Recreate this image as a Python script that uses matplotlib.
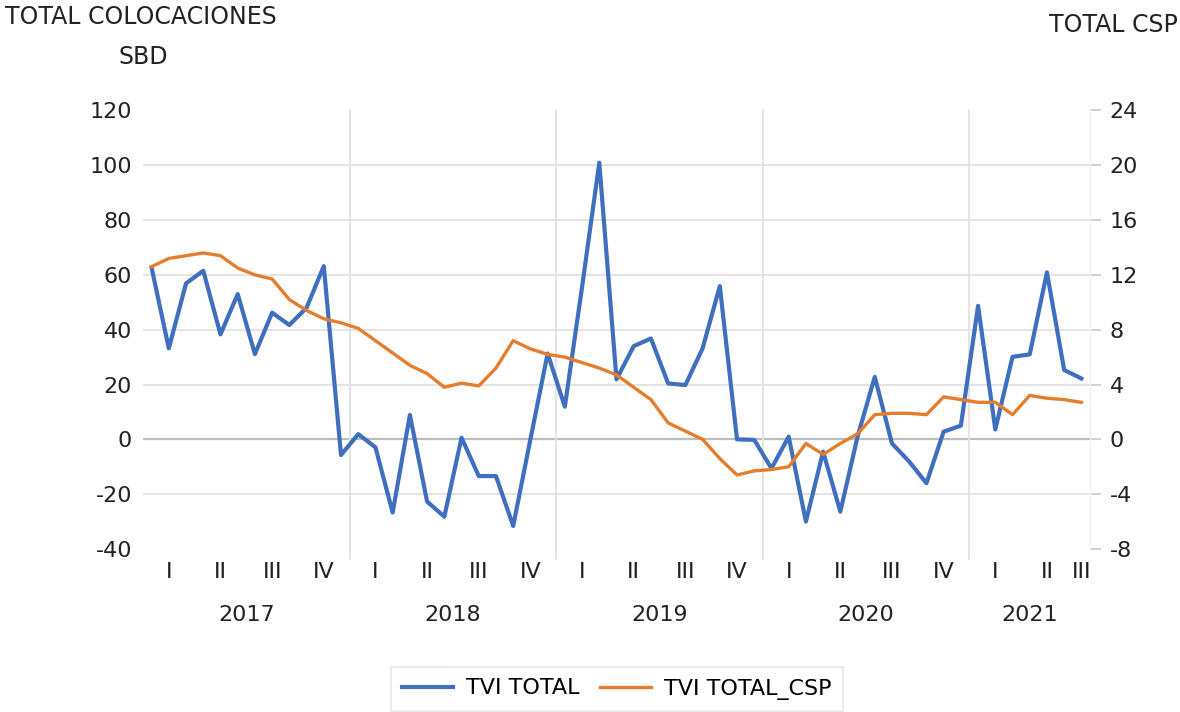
import numpy as np
import matplotlib
matplotlib.use("Agg")
import matplotlib.pyplot as plt

# monthly data, Jan 2017 - Jul 2021
years = ["2017", "2018", "2019", "2020", "2021"]
quarters = ["I", "II", "III", "IV"]

tvi_total = [
    62.6, 33.2, 56.9, 61.5, 38.3, 53.0, 31.1, 46.2, 41.7, 48.0, 63.2, -5.7,    # 2017
    1.9, -2.9, -26.7, 8.9, -22.7, -28.2, 0.6, -13.4, -13.4, -31.6, 0.0, 31.3,  # 2018
    11.9, 55.6, 100.9, 21.9, 34.0, 36.8, 20.4, 19.8, 33.2, 55.9, 0.0, -0.2,    # 2019
    -10.6, 1.0, -30.0, -4.5, -26.4, 1.0, 22.8, -1.5, -8.1, -16.0, 2.8, 5.0,    # 2020
    48.7, 3.6, 30.1, 31.0, 60.9, 25.3, 22.2,                                   # 2021
]

tvi_total_csp = [
    12.6, 13.2, 13.4, 13.6, 13.4, 12.5, 12.0, 11.7, 10.2, 9.4, 8.8, 8.5,
    8.1, 7.2, 6.3, 5.4, 4.8, 3.8, 4.1, 3.9, 5.2, 7.2, 6.6, 6.2,
    6.0, 5.6, 5.2, 4.7, 3.8, 2.9, 1.2, 0.6, 0.0, -1.4, -2.6, -2.3,
    -2.2, -2.0, -0.3, -1.1, -0.3, 0.4, 1.8, 1.9, 1.9, 1.8, 3.1, 2.9,
    2.7, 2.7, 1.8, 3.2, 3.0, 2.9, 2.7,
]

BLUE = "#3F6FBF"
ORANGE = "#E57E2C"
GRID = "#E4E4E4"

plt.rcParams["font.family"] = ["DejaVu Sans"]
plt.rcParams["axes.unicode_minus"] = False

n = len(tvi_total)
x = np.arange(n)

fig = plt.figure(figsize=(11.8, 7.12), dpi=100)
ax = fig.add_axes([143 / 1180, 1 - 549 / 712, (1090 - 143) / 1180, (549 - 110.4) / 712])
ax2 = ax.twinx()

# left axis
ax.set_xlim(-0.5, n - 0.5)
ax.set_ylim(-40, 120)
ax.set_yticks(np.arange(-40, 121, 20))
for v in range(-20, 101, 20):
    ax.axhline(v, color="#BDBDBD" if v == 0 else GRID, lw=1.6 if v == 0 else 1.4, zorder=0)

# year separators, running a bit below the plot
for k in range(1, len(years)):
    ax.plot([12 * k - 0.5] * 2, [-0.022, 1.0], transform=ax.get_xaxis_transform(),
            color=GRID, lw=1.4, clip_on=False, zorder=0)

ax.plot(x, tvi_total, color=BLUE, lw=3.0, label="TVI TOTAL", zorder=3)
ax2.plot(x, tvi_total_csp, color=ORANGE, lw=2.4, label="TVI TOTAL_CSP", zorder=2)

ax2.set_ylim(-8, 24)
ax2.set_yticks(np.arange(-8, 25, 4))

for a in (ax, ax2):
    for s in a.spines.values():
        s.set_visible(False)
ax2.spines["right"].set_visible(True)
ax2.spines["right"].set_color("#F0F0F0")

ax.tick_params(axis="y", length=0, pad=8, labelsize=16, colors="#222222")
ax2.tick_params(axis="y", length=8, width=1.2, color="#C8C8C8", pad=6,
                labelsize=16, labelcolor="#222222")
ax.set_xticks([])

# two-level category labels
for yi, yr in enumerate(years):
    start = 12 * yi
    months = [m for m in range(start, start + 12) if m < n]
    for qi, q in enumerate(quarters):
        qm = [m for m in months if (m - start) // 3 == qi]
        if not qm:
            continue
        ax.text(np.mean(qm), -0.0524, q, transform=ax.get_xaxis_transform(),
                ha="center", va="center", fontsize=16, color="#222222")
    ax.text((months[0] + months[-1]) / 2, -0.150, yr, transform=ax.get_xaxis_transform(),
            ha="center", va="center", fontsize=16, color="#222222")

fig.text(5 / 1180, 1 - 17 / 712, "TOTAL COLOCACIONES", ha="left", va="center",
         fontsize=17, color="#222222")
fig.text(143 / 1180, 1 - 57 / 712, "SBD", ha="center", va="center",
         fontsize=17, color="#222222")
fig.text(1178 / 1180, 1 - 25 / 712, "TOTAL CSP", ha="right", va="center",
         fontsize=17, color="#222222")

h1, l1 = ax.get_legend_handles_labels()
h2, l2 = ax2.get_legend_handles_labels()
leg = fig.legend(h1 + h2, l1 + l2, loc="center", bbox_to_anchor=(617 / 1180, 1 - 689 / 712),
                 ncol=2, fontsize=16, frameon=True, fancybox=False, handlelength=2.3,
                 handletextpad=0.6, columnspacing=0.9, borderpad=0.5)
leg.get_frame().set_edgecolor("#E0E0E0")
leg.get_frame().set_linewidth(1.2)

fig.savefig("out.png", dpi=100)
